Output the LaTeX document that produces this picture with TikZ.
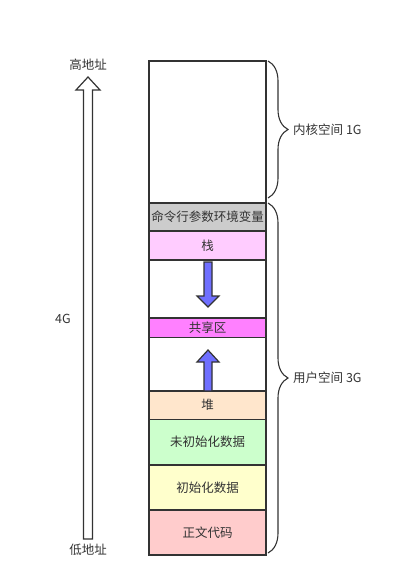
\documentclass[tikz,border=0pt]{standalone}
\usepackage{fontspec}
\setmainfont{Noto Sans CJK SC}
\usetikzlibrary{decorations.pathreplacing}
\definecolor{linegray}{HTML}{333333}
\definecolor{txtgray}{HTML}{333333}
\definecolor{cmdgray}{HTML}{CCCCCC}
\definecolor{stackpink}{HTML}{FFCCFF}
\definecolor{sharedpink}{HTML}{FF80FF}
\definecolor{heaporange}{HTML}{FFE6CC}
\definecolor{bssgreen}{HTML}{CCFFCC}
\definecolor{datayellow}{HTML}{FFFFCC}
\definecolor{codered}{HTML}{FFCCCC}
\definecolor{arrowblue}{HTML}{6F6FFF}

\begin{document}
\begin{tikzpicture}[x=1pt,y=-1pt,
	seg/.style={draw=linegray,line width=1.3pt,minimum width=117pt,inner sep=0pt,outer sep=0pt,text=txtgray,font=\fontsize{12.5}{14}\selectfont},
	lbl/.style={text=txtgray,inner sep=0pt,font=\fontsize{12.5}{14}\selectfont},
	brc/.style={decorate,decoration={brace,amplitude=20pt},draw=linegray,line width=1.1pt},
	fatarrow/.style={draw=linegray,line width=1.2pt,line join=miter}]
	\useasboundingbox (0,0) rectangle (402,588);
	\node[seg,fill=white,minimum height=142pt] (kernel) at (207.5,132) {};
	\node[seg,fill=cmdgray,minimum height=28pt] (cmdline) at (207.5,217) {命令行参数环境变量};
	\node[seg,fill=stackpink,minimum height=29pt] (stack) at (207.5,245.5) {栈};
	\node[seg,fill=white,minimum height=58pt] (gapA) at (207.5,289) {};
	\node[seg,fill=sharedpink,minimum height=19.5pt] (shared) at (207.5,327.75) {共享区};
	\node[seg,fill=white,minimum height=53.5pt] (gapB) at (207.5,364.25) {};
	\node[seg,fill=heaporange,minimum height=28.5pt] (heap) at (207.5,405.25) {堆};
	\node[seg,fill=bssgreen,minimum height=45.5pt] (bss) at (207.5,442.25) {未初始化数据};
	\node[seg,fill=datayellow,minimum height=45pt] (data) at (207.5,487.5) {初始化数据};
	\node[seg,fill=codered,minimum height=45pt] (code) at (207.5,532.5) {正文代码};
	\draw[fatarrow,fill=arrowblue] (204,262) -- (212,262) -- (212,296) -- (219,296) -- (208,307) -- (197,296) -- (204,296) -- cycle;
	\draw[fatarrow,fill=arrowblue] (204,391) -- (212,391) -- (212,362) -- (219,362) -- (208,350) -- (197,362) -- (204,362) -- cycle;
	\draw[fatarrow,fill=white] (83.5,539) -- (92.5,539) -- (92.5,90) -- (100,90) -- (88,77) -- (76,90) -- (83.5,90) -- cycle;
	\node[lbl] (high) at (88,65) {高地址};
	\node[lbl] (low) at (88,550) {低地址};
	\node[lbl] (total) at (63,319) {4G};
	\draw[brc] (268,61) -- (268,198);
	\draw[brc] (268,203) -- (268,553);
	\node[lbl,anchor=west] (kspace) at (293,130) {内核空间 1G};
	\node[lbl,anchor=west] (uspace) at (293,378) {用户空间 3G};
\end{tikzpicture}
\end{document}
